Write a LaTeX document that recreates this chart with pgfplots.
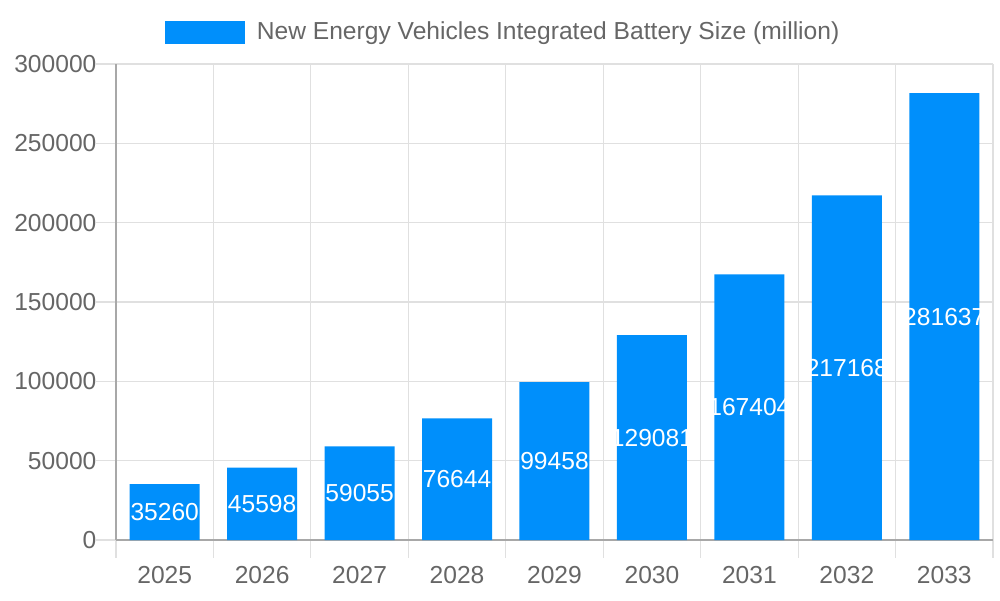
\documentclass[border=0pt]{standalone}
\usepackage{fontspec}
\setmainfont{Liberation Sans}
\usepackage{pgfplots}
\usepackage{pgfplotstable}
\pgfplotsset{compat=1.18}
\definecolor{barblue}{HTML}{008FFB}
\definecolor{txtgray}{HTML}{666666}
\definecolor{gridgray}{HTML}{E0E0E0}
\definecolor{axgray}{HTML}{A8A8A8}

% battery size per year
\pgfplotstableread{
x year value
0 2025 35260
1 2026 45598
2 2027 59055
3 2028 76644
4 2029 99458
5 2030 129081
6 2031 167404
7 2032 217168
8 2033 281637
}\batterydata

\begin{document}
\begin{tikzpicture}
\useasboundingbox (0,0) rectangle (500pt,300pt);
\begin{axis}[
    at={(58pt,30pt)}, anchor=south west,
    scale only axis,
    width=438.5pt, height=238pt,
    xmin=-0.5, xmax=8.5,
    ymin=0, ymax=300000,
    xtick={0,...,8},
    xticklabels={2025,2026,2027,2028,2029,2030,2031,2032,2033},
    minor xtick={-0.5,0.5,...,8.5},
    ytick={0,50000,...,300000},
    scaled y ticks=false,
    /pgf/number format/assume math mode=true,
    yticklabel style={/pgf/number format/fixed, /pgf/number format/1000 sep={}, xshift=-2pt},
    tick label style={font=\fontsize{12.3}{14}\selectfont, text=txtgray},
    xticklabel style={yshift=-5.5pt},
    axis lines*=left,
    axis line style={axgray, line width=0.6pt},
    tick align=outside,
    xtick style={/pgfplots/major tick length=0pt},
    ytick style={gridgray, line width=0.6pt, /pgfplots/major tick length=10pt},
    minor tick style={gridgray, line width=0.6pt, /pgfplots/minor tick length=9pt},
    ymajorgrids=true, xminorgrids=true,
    major grid style={gridgray, line width=0.6pt},
    minor grid style={gridgray, line width=0.6pt},
    bar width=35pt,
    legend style={at={(0.438,1)}, anchor=center, xshift=2pt, yshift=16pt, draw=none, fill=none,
        font=\fontsize{12.3}{14}\selectfont, text=txtgray},
    legend image code/.code={\fill[barblue] (0pt,-5.75pt) rectangle (40pt,5.75pt);
        \path (44pt,0pt);},
]
\addplot[ybar, fill=barblue, draw=none] table[x=x, y=value] {\batterydata};
\addlegendentry{New Energy Vehicles Integrated Battery Size (million)}
\addplot[draw=none, mark=none, forget plot,
    point meta=explicit symbolic,
    nodes near coords={\pgfplotspointmeta},
    nodes near coords style={anchor=center, text=white, font=\fontsize{12.3}{14}\selectfont}]
    table[x=x, y expr=\thisrow{value}/2, meta=value] {\batterydata};
\end{axis}
\end{tikzpicture}
\end{document}
